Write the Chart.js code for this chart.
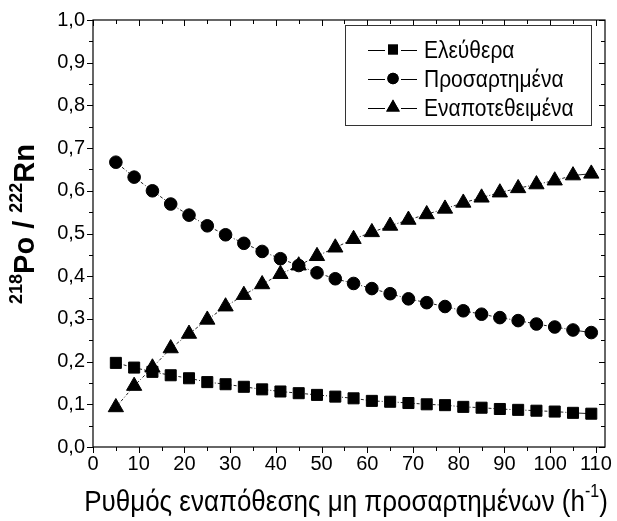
<!DOCTYPE html>
<html>
<head>
<meta charset="utf-8">
<script src="https://cdn.jsdelivr.net/npm/chart.js@4/dist/chart.umd.min.js"></script>
<style>
  html, body { margin: 0; padding: 0; background: #fff; }
  #wrap { width: 617px; height: 521px; }
</style>
</head>
<body>
<div id="wrap"><canvas id="c"></canvas></div>
<script>
// ρυθμός εναπόθεσης (h^-1)
const rates = [5, 9, 13, 17, 21, 25, 29, 33, 37, 41, 45, 49, 53, 57, 61, 65, 69, 73, 77, 81, 85, 89, 93, 97, 101, 105, 109];

// λόγοι 218Po / 222Rn
const free = [0.197, 0.186, 0.176, 0.168, 0.161, 0.152, 0.147, 0.141, 0.135, 0.130, 0.126, 0.122, 0.118,
  0.114, 0.108, 0.106, 0.103, 0.100, 0.098, 0.094, 0.092, 0.089, 0.087, 0.085, 0.083, 0.080, 0.078];
const attached = [0.667, 0.632, 0.600, 0.569, 0.543, 0.518, 0.497, 0.477, 0.458, 0.441, 0.425, 0.408, 0.394,
  0.383, 0.371, 0.359, 0.347, 0.338, 0.329, 0.319, 0.311, 0.303, 0.296, 0.288, 0.281, 0.274, 0.268];
const deposited = [0.093, 0.143, 0.186, 0.231, 0.265, 0.298, 0.329, 0.356, 0.381, 0.405, 0.425, 0.447, 0.467,
  0.487, 0.503, 0.518, 0.532, 0.545, 0.558, 0.572, 0.584, 0.596, 0.606, 0.615, 0.624, 0.636, 0.640];

const seriesNames = ['Ελεύθερα', 'Προσαρτημένα', 'Εναποτεθειμένα'];
const xTicks = [0, 10, 20, 30, 40, 50, 60, 70, 80, 90, 100, 110];
const yTicks = [0, 0.1, 0.2, 0.3, 0.4, 0.5, 0.6, 0.7, 0.8, 0.9, 1.0];

const FONT = "'Liberation Sans', Arial, sans-serif";
const STRETCH = 1.15; // ελαφρώς ψηλότερα γράμματα στους τίτλους

function toPoints(ys) {
  return rates.map((x, i) => ({ x: x, y: ys[i] }));
}

function makeSet(label, ys, style, radius) {
  return {
    label: label,
    data: toPoints(ys),
    showLine: true,
    borderColor: '#222',
    borderWidth: 1,
    borderDash: [3, 2, 1, 2],
    // τελευταίο τμήμα συνεχές
    segment: { borderDash: ctx => ctx.p1DataIndex === ys.length - 1 ? [] : undefined },
    pointStyle: style,
    pointRadius: radius,
    pointHoverRadius: radius,
    pointBackgroundColor: '#000',
    pointBorderColor: '#000',
    pointBorderWidth: 1
  };
}

function tallText(ctx, text, x, y) {
  ctx.save();
  ctx.translate(x, y);
  ctx.scale(1, STRETCH);
  ctx.fillText(text, 0, 0);
  ctx.restore();
}

// πλαίσιο, γραμμές υποδιαιρέσεων, τίτλοι αξόνων και υπόμνημα
const framePlugin = {
  id: 'frame',
  afterDraw(chart) {
    const ctx = chart.ctx;
    const a = chart.chartArea;
    const xs = chart.scales.x, ys = chart.scales.y;
    ctx.save();
    ctx.strokeStyle = '#000';
    ctx.lineWidth = 1.2;
    ctx.strokeRect(a.left, a.top, a.right - a.left, a.bottom - a.top);

    ctx.lineWidth = 1;
    ctx.beginPath();
    for (let v = 0; v <= 110; v += 5) {
      const px = Math.round(xs.getPixelForValue(v)) + 0.5;
      const len = v % 10 === 0 ? 6 : 4;
      ctx.moveTo(px, a.bottom); ctx.lineTo(px, a.bottom + len);
      ctx.moveTo(px, a.top); ctx.lineTo(px, a.top + len);
    }
    for (let k = 0; k <= 20; k++) {
      const py = Math.round(ys.getPixelForValue(k * 0.05)) + 0.5;
      const len = k % 2 === 0 ? 6 : 4;
      ctx.moveTo(a.left, py); ctx.lineTo(a.left - len, py);
      ctx.moveTo(a.right, py); ctx.lineTo(a.right - len, py);
    }
    ctx.stroke();

    ctx.fillStyle = '#000';
    ctx.textBaseline = 'alphabetic';
    ctx.textAlign = 'left';

    // τίτλος άξονα x
    const xMain = 'Ρυθμός εναπόθεσης μη προσαρτημένων (h';
    ctx.font = '26px ' + FONT;
    const w1 = ctx.measureText(xMain).width;
    ctx.font = '16px ' + FONT;
    const w2 = ctx.measureText('-1').width;
    ctx.font = '26px ' + FONT;
    const w3 = ctx.measureText(')').width;
    const x0 = 346 - (w1 + w2 + w3) / 2;
    const base = 511;
    tallText(ctx, xMain, x0, base);
    ctx.font = '16px ' + FONT;
    tallText(ctx, '-1', x0 + w1, base - 14);
    ctx.font = '26px ' + FONT;
    tallText(ctx, ')', x0 + w1 + w2, base);

    // τίτλος άξονα y
    const parts = [
      { t: '218', f: 'bold 18px ' + FONT, dy: -12 },
      { t: 'Po / ', f: 'bold 29px ' + FONT, dy: 0 },
      { t: '222', f: 'bold 18px ' + FONT, dy: -12 },
      { t: 'Rn', f: 'bold 29px ' + FONT, dy: 0 }
    ];
    let total = 0;
    parts.forEach(p => { ctx.font = p.f; p.w = ctx.measureText(p.t).width; total += p.w; });
    ctx.translate(34, 224);
    ctx.rotate(-Math.PI / 2);
    let cx = -total / 2;
    parts.forEach(p => { ctx.font = p.f; ctx.fillText(p.t, cx, p.dy); cx += p.w; });
    ctx.setTransform(1, 0, 0, 1, 0, 0);

    // υπόμνημα
    const box = { l: 345, t: 25, r: 591, b: 125 };
    ctx.strokeStyle = '#333';
    ctx.lineWidth = 1;
    ctx.strokeRect(box.l + 0.5, box.t + 0.5, box.r - box.l, box.b - box.t);
    ctx.font = '21px ' + FONT;
    const rowY = [49.5, 78.5, 107.5];
    chart.data.datasets.forEach((ds, i) => {
      const y = rowY[i];
      const ly = Math.round(y) + 0.5;
      ctx.strokeStyle = '#000';
      ctx.beginPath();
      ctx.moveTo(368, ly); ctx.lineTo(385, ly);
      ctx.moveTo(401, ly); ctx.lineTo(417, ly);
      ctx.stroke();
      ctx.fillStyle = '#000';
      Chart.helpers.drawPoint(ctx, { pointStyle: ds.pointStyle, radius: ds.pointRadius * 0.9, rotation: 0, borderWidth: 0 }, 393, y);
      ctx.fill();
      tallText(ctx, ds.label, 424, y + 0.358 * 21 * STRETCH);
    });
    ctx.restore();
  }
};

new Chart(document.getElementById('c'), {
  type: 'scatter',
  data: {
    datasets: [
      makeSet(seriesNames[0], free, 'rect', 7.8),
      makeSet(seriesNames[1], attached, 'circle', 6.3),
      makeSet(seriesNames[2], deposited, 'triangle', 8.8)
    ]
  },
  options: {
    responsive: true,
    maintainAspectRatio: false,
    animation: false,
    layout: { padding: { left: 0, right: 11, top: 16, bottom: 0 } },
    plugins: { legend: { display: false }, tooltip: { enabled: false } },
    scales: {
      x: {
        type: 'linear',
        min: 0,
        max: 112,
        afterBuildTicks: s => { s.ticks = xTicks.map(v => ({ value: v })); },
        afterFit: s => { s.height = 74; },
        grid: { display: false, drawTicks: false },
        border: { display: false },
        ticks: { color: '#000', font: { family: FONT, size: 20 }, padding: 5, maxRotation: 0, autoSkip: false }
      },
      y: {
        type: 'linear',
        min: 0,
        max: 1,
        afterBuildTicks: s => { s.ticks = yTicks.map(v => ({ value: v })); },
        afterFit: s => { s.width = 93; },
        grid: { display: false, drawTicks: false },
        border: { display: false },
        ticks: {
          color: '#000',
          font: { family: FONT, size: 20 },
          padding: 8,
          autoSkip: false,
          callback: v => v.toFixed(1).replace('.', ',')
        }
      }
    }
  },
  plugins: [framePlugin]
});
</script>
</body>
</html>
